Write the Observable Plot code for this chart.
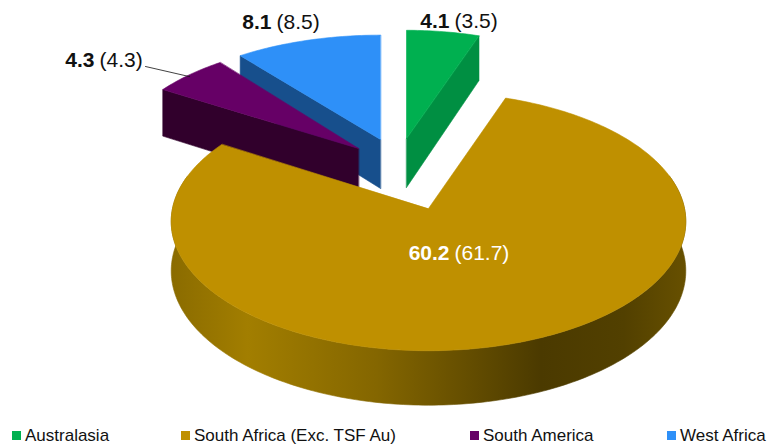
<!DOCTYPE html>
<html>
<head>
<meta charset="utf-8">
<script src="https://cdn.jsdelivr.net/npm/d3@7"></script>
<script src="https://cdn.jsdelivr.net/npm/@observablehq/plot@0.6"></script>
<style>
  html,body{margin:0;padding:0;background:#fff;}
  #chart svg{display:block;}
  #legend{position:relative;height:34px;font:17px "Liberation Sans",Arial,sans-serif;color:#111;}
  #legend span{position:absolute;top:12px;white-space:nowrap;line-height:20px;}
  #legend i{display:inline-block;width:9px;height:9px;margin-right:4px;vertical-align:1px;}
</style>
</head>
<body>
<div id="chart"></div>
<div id="legend"></div>
<script>
// Data
const categories = ["Australasia", "South Africa (Exc. TSF Au)", "South America", "West Africa"];
const values = [4.1, 60.2, 4.3, 8.1];
const priorValues = [3.5, 61.7, 4.3, 8.5];

// Styles
const topColors  = ["#00b050", "#bf9000", "#660066", "#2e90f8"];
const sideColors = ["#008f42", "#7a5f00", "#31002c", "#174f8c"];
const apexes = [[406,138],[428,208],[358,148],[380,139]];
const shrink = [[0.94,0.93],[1,1],[0.947,0.92],[0.96,0.897]];
const labelAnchors = [[449,21],[449,253],[94,60],[271,22]];
const labelColors = ["#111","#fff","#111","#111"];
const legendLefts = [12,181,470,667];

// 3D-like projection
const W = 767, H = 414, Rx = 256, Ry = 128, Depth = 49, P = 0.1;
const rad = d => d * Math.PI / 180;
function project(sl, deg, r, z) {
  const [cx, cy] = sl.apex, [fx, fy] = sl.shrink;
  const X = Math.sin(rad(deg)) * r, Y = Math.cos(rad(deg)) * r, s = 1 / (1 + P * Y);
  return {x: cx + Rx * fx * X * s, y: cy - Ry * fy * Y * s + Depth * s * z};
}
const total = d3.sum(values);
let acc = 0;
const slices = categories.map((name, i) => {
  const a0 = acc / total * 360; acc += values[i]; const a1 = acc / total * 360;
  return {name, i, a0, a1, apex: apexes[i], shrink: shrink[i]};
});
const arc = (s, a0, a1, z) => {
  const n = Math.max(2, Math.ceil(Math.abs(a1 - a0)));
  return d3.range(n + 1).map(k => project(s, a0 + (a1 - a0) * k / n, 1, z));
};
const topFace = s => [project(s, 0, 0, 0), ...arc(s, s.a0, s.a1, 0)];
const radialWall = (s, a) => [project(s, 0, 0, 0), project(s, a, 1, 0), project(s, a, 1, 1), project(s, 0, 0, 1)];
const outerWall = (s, a0, a1) => [...arc(s, a0, a1, 0), ...arc(s, a1, a0, 1)];
const poly = (pts, color) => Plot.line(pts, {x: "x", y: "y", fill: color, stroke: color, strokeWidth: 0.6, curve: "linear-closed"});

const [aus, sa, sam, waf] = slices;

const gradient = () => {
  const defs = d3.create("svg:defs");
  const g = defs.append("linearGradient").attr("id", "goldWall").attr("gradientUnits", "userSpaceOnUse")
    .attr("x1", 170).attr("x2", 685).attr("y1", 0).attr("y2", 0);
  [[0,"#8a6b00"],[0.15,"#a27e00"],[0.4,"#846600"],[0.72,"#4b3a00"],[0.88,"#524000"],[1,"#675000"]]
    .forEach(([o, c]) => g.append("stop").attr("offset", o).attr("stop-color", c));
  return defs.node();
};

const purpleMid = project(sam, 312, 1, 0);
const leader = [{x: labelAnchors[2][0] + 51, y: labelAnchors[2][1] + 6}, {x: purpleMid.x, y: purpleMid.y + 2}];

const labels = slices.map(s => ({
  bold: values[s.i].toFixed(1),
  prior: `(${priorValues[s.i].toFixed(1)})`,
  x: labelAnchors[s.i][0], y: labelAnchors[s.i][1], color: labelColors[s.i]
}));

const chart = Plot.plot({
  width: W, height: H, margin: 0,
  x: {domain: [0, W], range: [0, W], axis: null},
  y: {domain: [0, H], range: [0, H], axis: null},
  style: {background: "transparent"},
  marks: [
    gradient,
    poly(radialWall(waf, waf.a0), sideColors[3]),
    poly(topFace(waf), topColors[3]),
    poly(radialWall(sam, sam.a0), sideColors[2]),
    poly(topFace(sam), topColors[2]),
    poly(radialWall(aus, aus.a1), sideColors[0]),
    poly(topFace(aus), topColors[0]),
    poly(outerWall(sa, 75, 285), "url(#goldWall)"),
    poly(topFace(sa), topColors[1]),
    Plot.line(leader, {x: "x", y: "y", stroke: "#111", strokeWidth: 0.8}),
    Plot.text(labels, {x: "x", y: "y", text: "bold", fill: "color", textAnchor: "end", fontWeight: "bold", fontSize: 21, fontFamily: "Liberation Sans"}),
    Plot.text(labels, {x: "x", y: "y", text: "prior", fill: "color", dx: 5, textAnchor: "start", fontSize: 21, fontFamily: "Liberation Sans"})
  ]
});
document.getElementById("chart").append(chart);

const legend = document.getElementById("legend");
categories.forEach((c, i) => {
  const el = document.createElement("span");
  el.style.left = legendLefts[i] + "px";
  const sw = document.createElement("i");
  sw.style.background = topColors[i];
  el.append(sw, c);
  legend.append(el);
});
</script>
</body>
</html>
